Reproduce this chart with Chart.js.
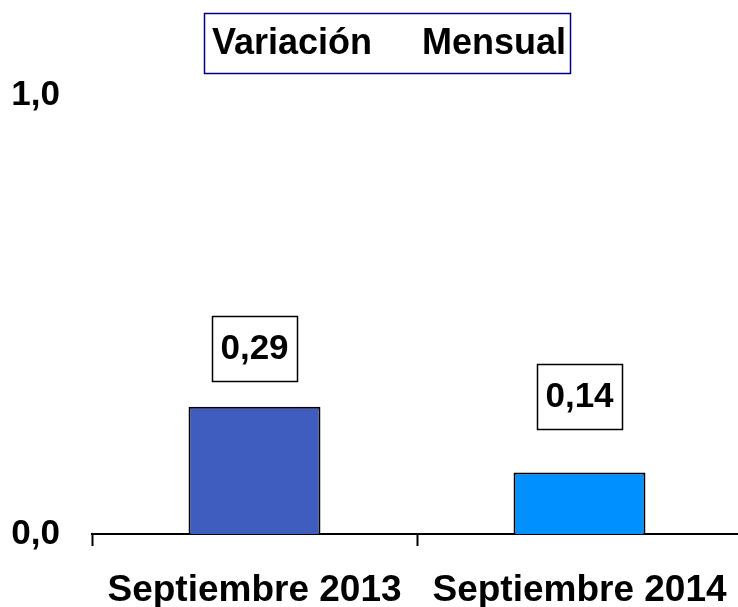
<!DOCTYPE html>
<html>
<head>
<meta charset="utf-8">
<script src="https://cdn.jsdelivr.net/npm/chart.js@4"></script>
<style>
  html, body { margin: 0; padding: 0; background: #fff; overflow: hidden; }
  #wrap { width: 738px; height: 607px; overflow: hidden; }
</style>
</head>
<body>
<div id="wrap"><canvas id="chart" width="742" height="607"></canvas></div>
<script>
// data
const categories = ["Septiembre 2013", "Septiembre 2014"];
const values     = [0.29, 0.14];
const barColors  = ["#3f5cbf", "#0090ff"];
const yTicks     = [0, 1];
const titleText  = "Variación     Mensual";

const FONT = "'Liberation Sans', Arial, sans-serif";
const comma = (v, d) => v.toFixed(d).replace(".", ",");

// title in a navy box
const boxedTitle = {
  id: "boxedTitle",
  afterDraw(chart) {
    const ctx = chart.ctx;
    ctx.save();
    ctx.font = "bold 36px " + FONT;
    ctx.textAlign = "center";
    ctx.textBaseline = "middle";
    ctx.fillStyle = "#000";
    ctx.fillText(titleText, 389, 44);
    ctx.strokeStyle = "#000080";
    ctx.lineWidth = 1.5;
    ctx.strokeRect(204.5, 13.5, 366, 60);
    ctx.restore();
  }
};

// value labels in white boxes above the bars
const valueBoxes = {
  id: "valueBoxes",
  afterDatasetsDraw(chart) {
    const ctx  = chart.ctx;
    const gaps = [26, 44];
    const bars = chart.getDatasetMeta(0).data;
    ctx.save();
    bars.forEach((bar, i) => {
      const w = 85, h = 65;
      const x = bar.x - w / 2;
      const y = bar.y - gaps[i] - h;
      ctx.fillStyle = "#fff";
      ctx.fillRect(x, y, w, h);
      ctx.strokeStyle = "#000";
      ctx.lineWidth = 1.5;
      ctx.strokeRect(Math.round(x) + 0.5, Math.round(y) + 0.5, w, h);
      ctx.fillStyle = "#000";
      ctx.font = "bold 35px " + FONT;
      ctx.textAlign = "center";
      ctx.textBaseline = "middle";
      ctx.fillText(comma(values[i], 2), bar.x, y + h / 2 + 1);
    });
    ctx.restore();
  }
};

new Chart(document.getElementById("chart"), {
  type: "bar",
  data: {
    labels: categories,
    datasets: [{
      data: values,
      backgroundColor: barColors,
      borderColor: "#000",
      borderWidth: 2,
      barPercentage: 0.406,
      categoryPercentage: 1
    }]
  },
  options: {
    responsive: false,
    animation: false,
    layout: { padding: { top: 95, right: 0, left: 0, bottom: 0 } },
    plugins: {
      legend: { display: false },
      tooltip: { enabled: false },
      title: { display: false }
    },
    scales: {
      y: {
        min: 0,
        max: 1,
        afterBuildTicks: s => { s.ticks = yTicks.map(v => ({ value: v })); },
        afterFit: s => { s.width = 92; },
        border: { display: false },
        grid: { display: false },
        ticks: {
          color: "#000",
          padding: 24,
          font: { family: FONT, size: 35, weight: "bold" },
          callback: v => comma(v, 1)
        }
      },
      x: {
        afterFit: s => {
          s.height = 73;
          s.paddingLeft = 0;
          s.paddingRight = 0;
        },
        border: { display: true, color: "#000", width: 2 },
        grid: {
          display: true,
          drawOnChartArea: false,
          drawTicks: true,
          tickLength: 12,
          tickWidth: 2,
          color: "#000"
        },
        ticks: {
          color: "#000",
          padding: 23,
          font: { family: FONT, size: 37, weight: "bold" }
        }
      }
    }
  },
  plugins: [boxedTitle, valueBoxes]
});
</script>
</body>
</html>
